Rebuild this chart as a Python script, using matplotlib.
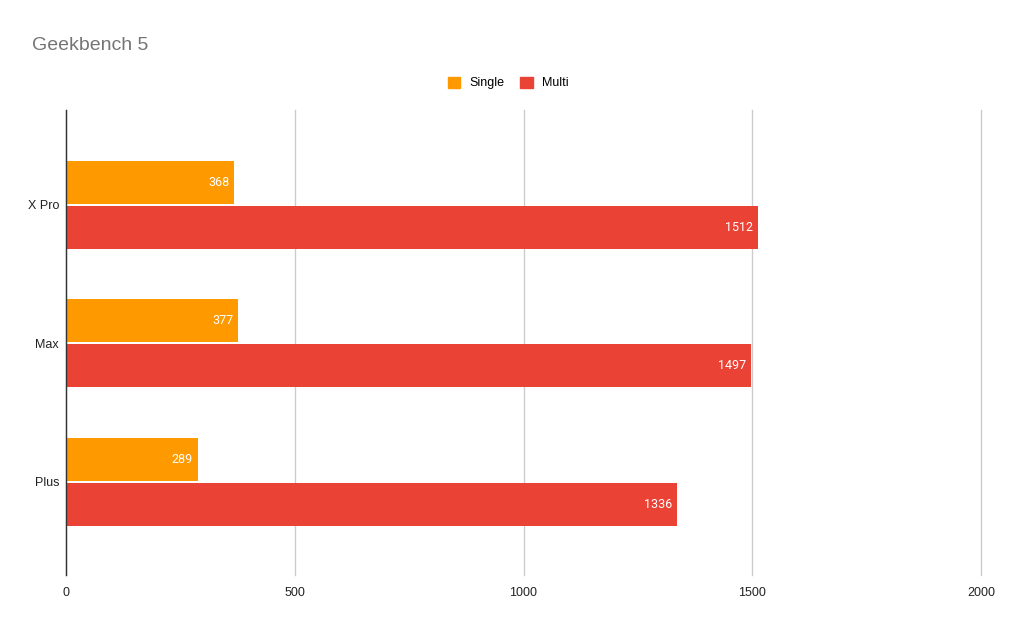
import matplotlib.pyplot as plt
from matplotlib.patches import Patch
import numpy as np

categories = ["X Pro", "Max", "Plus"]
single = [368, 377, 289]
multi = [1512, 1497, 1336]

orange = "#ff9900"
red = "#ea4335"

plt.rcParams['font.family'] = ['Liberation Sans', 'DejaVu Sans']

fig = plt.figure(figsize=(10.13, 6.27), dpi=100)
ax = fig.add_axes([66 / 1013, 1 - 575 / 627, 915 / 1013, 465 / 627])

y = np.arange(len(categories))
h = 0.31
gap = 0.015
ax.barh(y - h / 2 - gap / 2, single, height=h, color=orange, zorder=3)
ax.barh(y + h / 2 + gap / 2, multi, height=h, color=red, zorder=3)

for i in range(len(categories)):
    ax.text(single[i] - 11, y[i] - h / 2 - gap / 2, str(single[i]), color="white",
            ha="right", va="center", fontsize=9, family="Roboto", zorder=4)
    ax.text(multi[i] - 11, y[i] + h / 2 + gap / 2, str(multi[i]), color="white",
            ha="right", va="center", fontsize=9, family="Roboto", zorder=4)

ax.set_xlim(0, 2000)
ax.set_ylim(2.675, -0.686)
ax.set_xticks([0, 500, 1000, 1500, 2000])
ax.set_yticks(y)
ax.set_yticklabels(categories)
ax.tick_params(axis="both", length=0, labelsize=9, colors="#222222")
ax.tick_params(axis="x", pad=9)
ax.tick_params(axis="y", pad=5)
ax.grid(axis="x", color="#cccccc", linewidth=1, zorder=0)
for gl in ax.get_xgridlines():
    gl.set_clip_on(False)
for s in ["top", "right", "bottom"]:
    ax.spines[s].set_visible(False)
ax.spines["left"].set_color("#333333")
ax.spines["left"].set_linewidth(1)
ax.spines["left"].set_zorder(5)

fig.text(32 / 1013, 1 - 45 / 627, "Geekbench 5", fontsize=14, color="#757575",
         ha="left", va="center")

handles = [Patch(color=orange, label="Single"), Patch(color=red, label="Multi")]
fig.legend(handles=handles, loc="center", bbox_to_anchor=(508 / 1013, 1 - 83 / 627),
           ncol=2, frameon=False, fontsize=9, handlelength=1, handleheight=1,
           columnspacing=1.3, handletextpad=0.7)

fig.savefig("out.png", dpi=100)
